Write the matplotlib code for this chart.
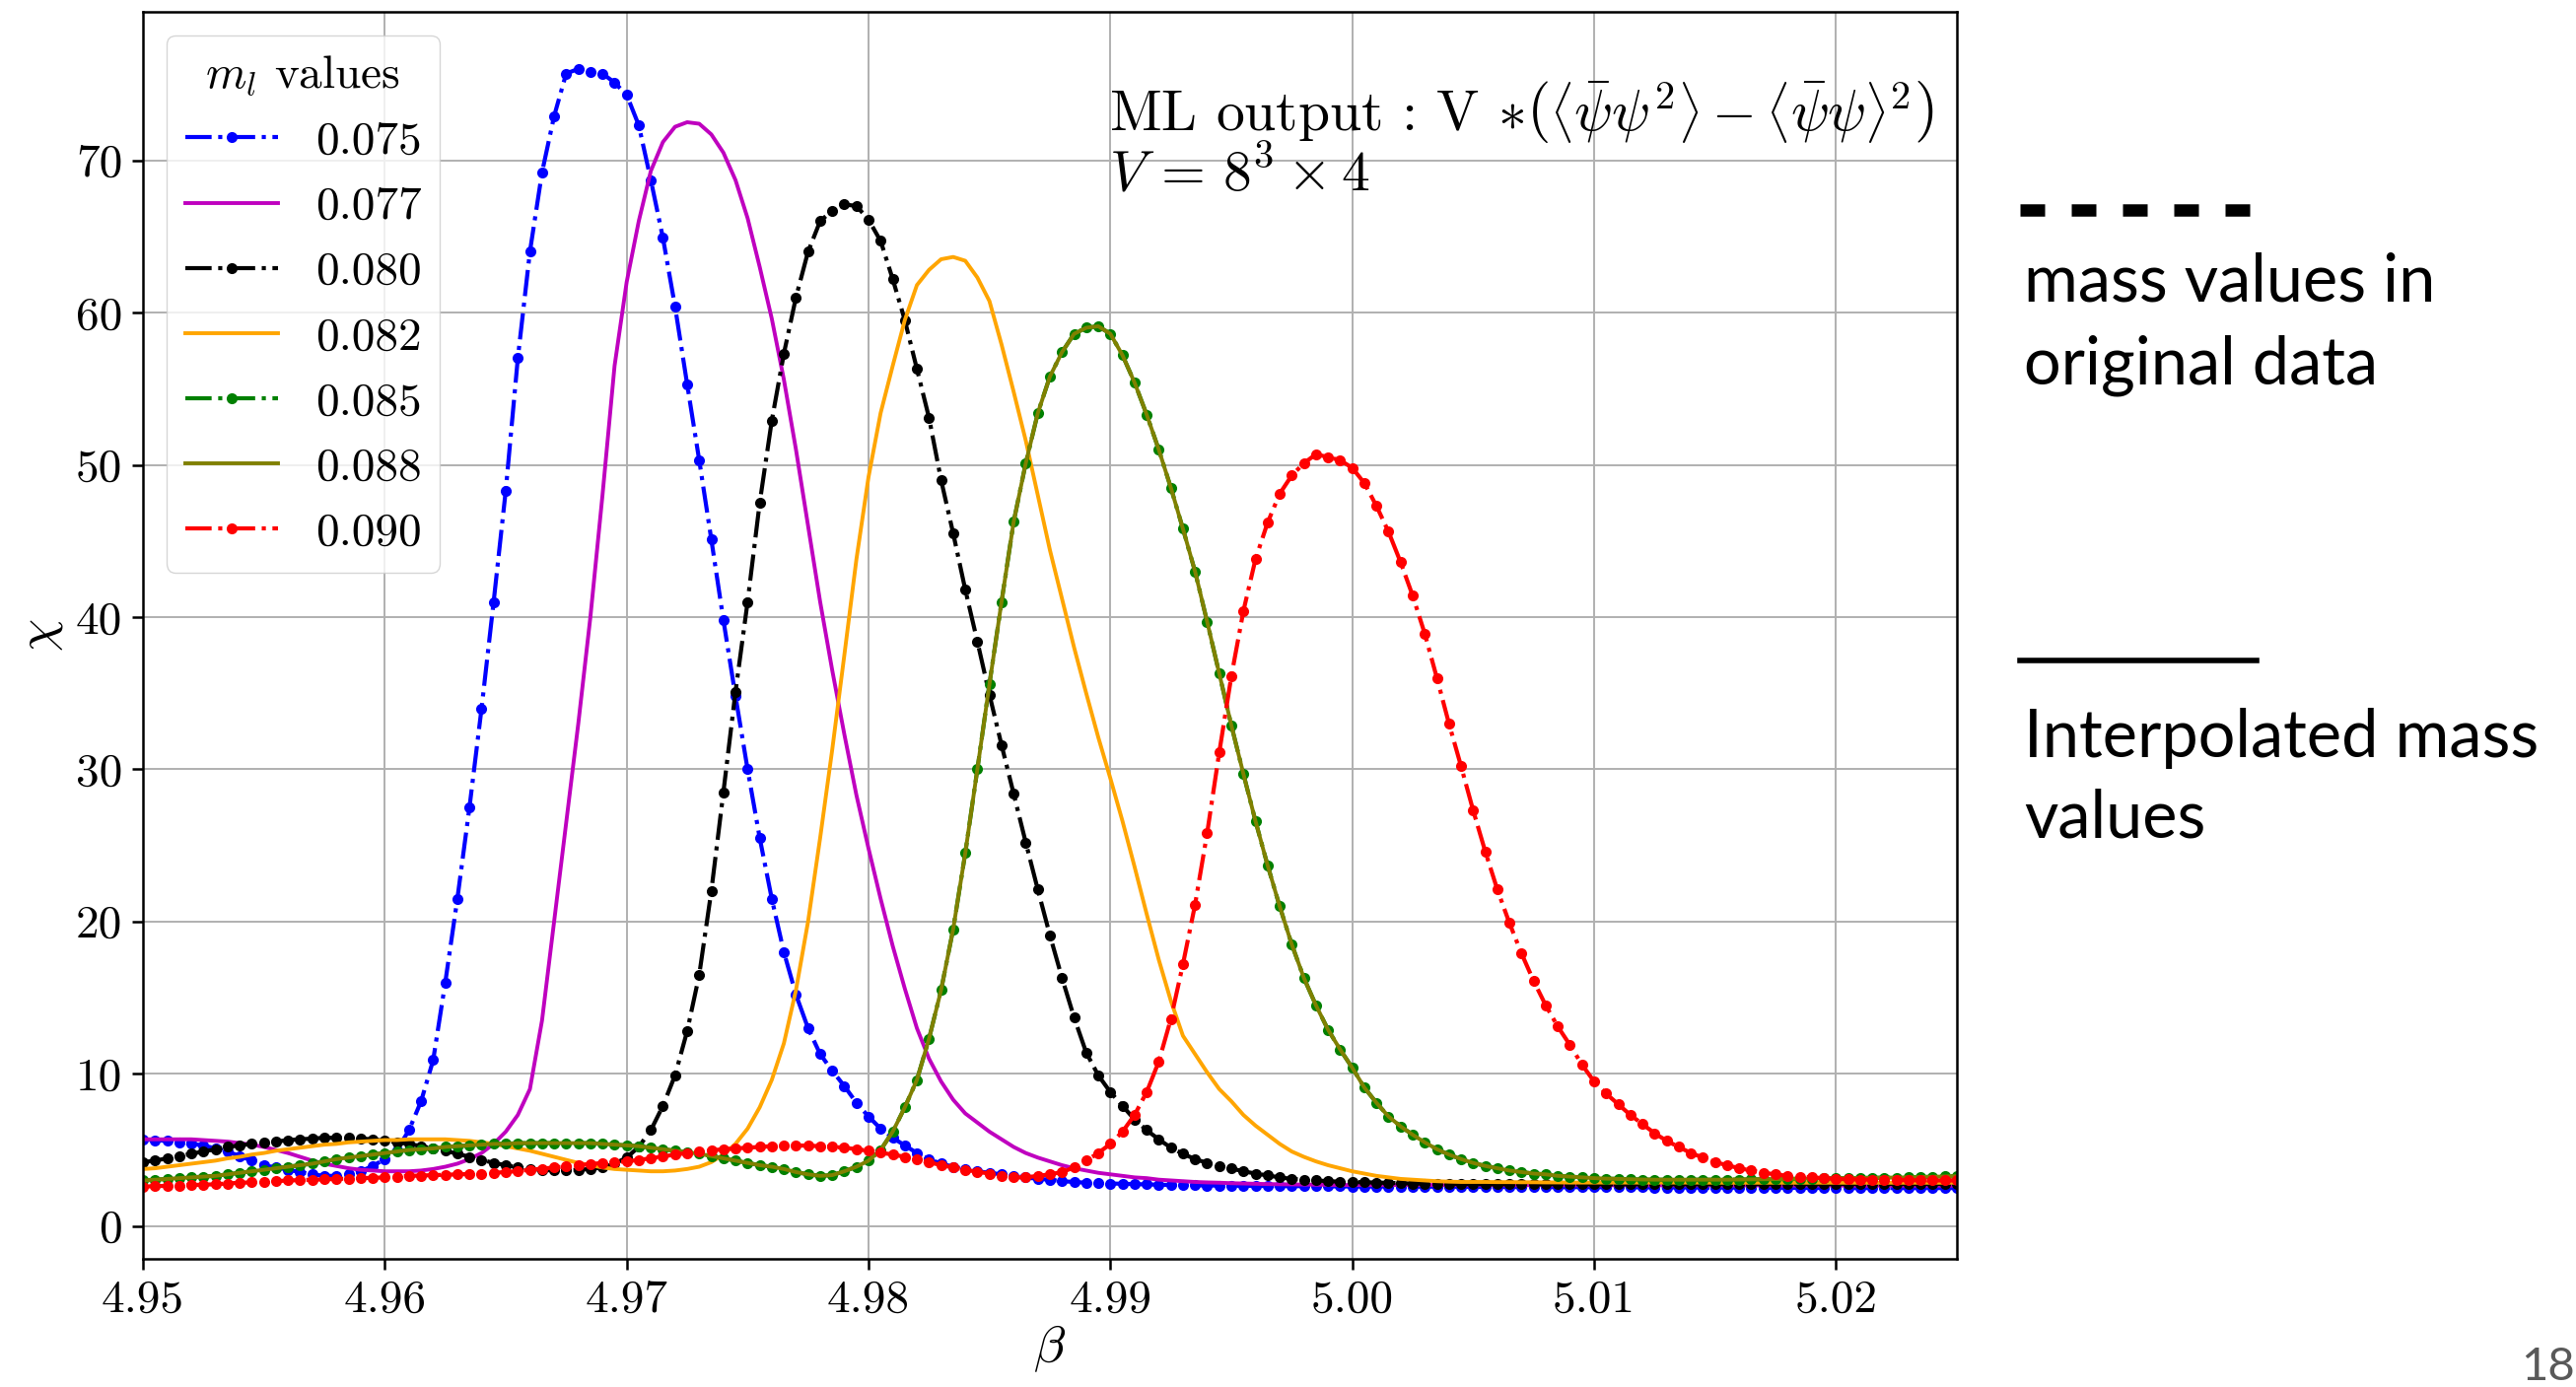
import numpy as np
import matplotlib
matplotlib.use("Agg")
import matplotlib.pyplot as plt
from matplotlib.lines import Line2D

plt.rcParams["font.family"] = "serif"
plt.rcParams["font.serif"] = ["cmr10"]
plt.rcParams["mathtext.fontset"] = "cm"
plt.rcParams["axes.formatter.use_mathtext"] = True
plt.rcParams["axes.unicode_minus"] = False

# beta grid of the curves, step 0.0005
beta = np.linspace(4.95, 5.025, 151)

chi_075 = [
    5.7, 5.65, 5.6, 5.5, 5.4, 5.3, 5.1, 4.9, 4.6, 4.3,
    4.0, 3.85, 3.7, 3.55, 3.4, 3.3, 3.3, 3.4, 3.6, 3.95,
    4.4, 5.0, 6.3, 8.2, 10.9, 16.0, 21.5, 27.5, 34.0, 41.0,
    48.3, 57.0, 64.0, 69.2, 72.9, 75.7, 76.0, 75.8, 75.7, 75.1,
    74.3, 72.3, 68.7, 64.9, 60.4, 55.3, 50.3, 45.1, 39.8, 34.8,
    30.0, 25.5, 21.5, 18.0, 15.2, 13.0, 11.3, 10.2, 9.2, 8.1,
    7.2, 6.4, 5.8, 5.3, 4.8, 4.4, 4.1, 3.9, 3.75, 3.6,
    3.5, 3.4, 3.3, 3.2, 3.1, 3.05, 2.95, 2.9, 2.85, 2.82,
    2.8, 2.78, 2.76, 2.74, 2.72, 2.7, 2.69, 2.68, 2.67, 2.66,
    2.65, 2.65, 2.64, 2.64, 2.63, 2.63, 2.62, 2.62, 2.61, 2.61,
    2.6, 2.6, 2.6, 2.6, 2.6, 2.59, 2.59, 2.59, 2.59, 2.58,
    2.58, 2.58, 2.58, 2.57, 2.57, 2.57, 2.57, 2.56, 2.56, 2.56,
    2.56, 2.55, 2.55, 2.55, 2.55, 2.54, 2.54, 2.54, 2.54, 2.53,
    2.53, 2.53, 2.53, 2.52, 2.52, 2.52, 2.52, 2.51, 2.51, 2.51,
    2.51, 2.5, 2.5, 2.5, 2.5, 2.5, 2.5, 2.5, 2.5, 2.5,
    2.5,
]

chi_077 = [
    5.7, 5.7, 5.7, 5.7, 5.7, 5.65, 5.6, 5.55, 5.45, 5.35,
    5.2, 5.0, 4.8, 4.55, 4.3, 4.1, 3.95, 3.8, 3.7, 3.65,
    3.6, 3.6, 3.6, 3.65, 3.75, 3.9, 4.1, 4.4, 4.8, 5.4,
    6.2, 7.3, 9.0, 13.5, 20.0, 26.5, 33.0, 40.0, 48.0, 56.5,
    62.0, 66.0, 69.3, 71.2, 72.2, 72.5, 72.4, 71.7, 70.5, 68.7,
    66.2, 63.0, 59.6, 55.6, 51.0, 46.0, 41.0, 36.5, 32.3, 28.3,
    24.8, 21.5, 18.4, 15.6, 13.0, 11.0, 9.5, 8.3, 7.4, 6.8,
    6.2, 5.7, 5.2, 4.8, 4.5, 4.25, 4.0, 3.8, 3.65, 3.5,
    3.4, 3.3, 3.2, 3.15, 3.05, 3.0, 2.95, 2.9, 2.87, 2.85,
    2.82, 2.8, 2.78, 2.76, 2.75, 2.74, 2.73, 2.72, 2.71, 2.7,
    2.7, 2.7, 2.7, 2.7, 2.7, 2.7, 2.7, 2.7, 2.7, 2.7,
    2.69, 2.69, 2.69, 2.69, 2.69, 2.69, 2.69, 2.69, 2.69, 2.69,
    2.68, 2.68, 2.68, 2.68, 2.68, 2.68, 2.68, 2.68, 2.68, 2.68,
    2.67, 2.67, 2.67, 2.67, 2.67, 2.67, 2.67, 2.67, 2.67, 2.67,
    2.66, 2.66, 2.66, 2.66, 2.66, 2.66, 2.66, 2.66, 2.66, 2.66,
    2.66,
]

chi_080 = [
    4.2, 4.3, 4.45, 4.6, 4.75, 4.9, 5.05, 5.2, 5.3, 5.4,
    5.5, 5.55, 5.65, 5.7, 5.75, 5.8, 5.8, 5.8, 5.75, 5.7,
    5.6, 5.5, 5.4, 5.25, 5.1, 4.95, 4.75, 4.55, 4.35, 4.15,
    4.0, 3.85, 3.75, 3.7, 3.65, 3.65, 3.7, 3.75, 3.85, 4.1,
    4.5, 5.2, 6.3, 7.9, 9.9, 12.8, 16.5, 22.0, 28.5, 35.1,
    41.0, 47.5, 52.9, 57.3, 61.0, 64.0, 66.0, 66.7, 67.1, 67.0,
    66.1, 64.7, 62.2, 59.5, 56.3, 53.1, 49.0, 45.5, 41.8, 38.4,
    34.9, 31.6, 28.4, 25.2, 22.1, 19.1, 16.3, 13.7, 11.4, 9.9,
    8.8, 7.9, 7.0, 6.3, 5.7, 5.15, 4.75, 4.4, 4.15, 3.95,
    3.78, 3.6, 3.45, 3.33, 3.2, 3.1, 3.05, 3.0, 2.95, 2.92,
    2.9, 2.88, 2.86, 2.84, 2.82, 2.8, 2.79, 2.78, 2.77, 2.76,
    2.75, 2.75, 2.75, 2.75, 2.75, 2.75, 2.75, 2.75, 2.75, 2.75,
    2.75, 2.75, 2.75, 2.75, 2.75, 2.75, 2.75, 2.75, 2.75, 2.75,
    2.76, 2.76, 2.76, 2.76, 2.76, 2.76, 2.76, 2.76, 2.76, 2.76,
    2.77, 2.77, 2.77, 2.77, 2.77, 2.77, 2.77, 2.77, 2.77, 2.77,
    2.78,
]

chi_082 = [
    3.75, 3.8, 3.9, 4.0, 4.1, 4.2, 4.3, 4.45, 4.55, 4.7,
    4.8, 4.95, 5.05, 5.15, 5.25, 5.35, 5.4, 5.5, 5.55, 5.6,
    5.65, 5.65, 5.7, 5.7, 5.7, 5.7, 5.65, 5.6, 5.5, 5.4,
    5.25, 5.1, 4.95, 4.75, 4.55, 4.35, 4.15, 4.0, 3.85, 3.75,
    3.7, 3.65, 3.6, 3.6, 3.65, 3.75, 3.9, 4.2, 4.7, 5.4,
    6.4, 7.8, 9.6, 12.0, 15.5, 20.0, 25.5, 31.3, 37.5, 43.8,
    49.2, 53.4, 56.5, 59.5, 61.8, 62.8, 63.5, 63.65, 63.4, 62.3,
    60.75, 57.9, 54.8, 51.6, 48.0, 44.4, 41.2, 38.0, 35.0, 32.1,
    29.4, 26.6, 23.6, 20.5, 17.5, 14.8, 12.5, 11.3, 10.1, 9.0,
    8.2, 7.3, 6.6, 6.0, 5.4, 4.9, 4.55, 4.25, 4.0, 3.8,
    3.6, 3.45, 3.3, 3.2, 3.1, 3.05, 3.0, 2.95, 2.92, 2.9,
    2.9, 2.9, 2.89, 2.89, 2.88, 2.88, 2.87, 2.87, 2.86, 2.86,
    2.86, 2.86, 2.86, 2.86, 2.86, 2.86, 2.86, 2.86, 2.86, 2.86,
    2.85, 2.85, 2.85, 2.85, 2.85, 2.85, 2.85, 2.85, 2.85, 2.85,
    2.85, 2.85, 2.85, 2.85, 2.85, 2.85, 2.85, 2.85, 2.85, 2.85,
    2.85,
]

chi_085 = [
    3.0, 3.05, 3.1, 3.15, 3.2, 3.25, 3.3, 3.4, 3.5, 3.6,
    3.7, 3.8, 3.9, 4.0, 4.1, 4.25, 4.4, 4.5, 4.6, 4.7,
    4.8, 4.9, 5.0, 5.05, 5.1, 5.2, 5.25, 5.3, 5.35, 5.4,
    5.4, 5.45, 5.45, 5.45, 5.45, 5.45, 5.45, 5.45, 5.4, 5.35,
    5.3, 5.25, 5.15, 5.05, 4.95, 4.85, 4.75, 4.6, 4.45, 4.3,
    4.15, 4.0, 3.9, 3.75, 3.55, 3.4, 3.3, 3.35, 3.6, 3.9,
    4.3, 5.0, 6.2, 7.8, 9.6, 12.3, 15.5, 19.5, 24.5, 30.0,
    35.6, 41.0, 46.25, 50.1, 53.4, 55.8, 57.4, 58.6, 59.0, 59.1,
    58.6, 57.2, 55.4, 53.3, 51.0, 48.5, 45.8, 43.0, 39.7, 36.3,
    32.9, 29.7, 26.6, 23.7, 21.0, 18.5, 16.3, 14.5, 12.9, 11.6,
    10.4, 9.1, 8.1, 7.2, 6.55, 6.0, 5.5, 5.05, 4.7, 4.4,
    4.15, 3.95, 3.8, 3.65, 3.55, 3.45, 3.4, 3.3, 3.25, 3.2,
    3.15, 3.12, 3.1, 3.08, 3.06, 3.05, 3.05, 3.05, 3.05, 3.05,
    3.05, 3.05, 3.06, 3.07, 3.08, 3.09, 3.1, 3.11, 3.12, 3.13,
    3.14, 3.15, 3.16, 3.17, 3.18, 3.19, 3.2, 3.22, 3.24, 3.26,
    3.28,
]

# the interpolated 0.088 curve lies on top of the 0.085 points in the picture
chi_088 = list(chi_085)

chi_090 = [
    2.6, 2.62, 2.65, 2.67, 2.7, 2.72, 2.75, 2.8, 2.85, 2.87,
    2.9, 2.95, 3.0, 3.02, 3.05, 3.07, 3.1, 3.12, 3.15, 3.17,
    3.2, 3.25, 3.3, 3.32, 3.35, 3.37, 3.4, 3.42, 3.45, 3.5,
    3.55, 3.62, 3.7, 3.77, 3.85, 3.92, 4.0, 4.07, 4.15, 4.2,
    4.25, 4.35, 4.45, 4.57, 4.7, 4.8, 4.9, 4.97, 5.05, 5.1,
    5.15, 5.2, 5.25, 5.27, 5.3, 5.28, 5.25, 5.2, 5.15, 5.05,
    4.95, 4.82, 4.7, 4.55, 4.4, 4.2, 4.0, 3.85, 3.7, 3.57,
    3.45, 3.3, 3.2, 3.2, 3.3, 3.4, 3.55, 3.85, 4.3, 4.8,
    5.4, 6.2, 7.3, 8.8, 10.8, 13.6, 17.2, 21.1, 25.8, 31.1,
    36.1, 40.4, 43.8, 46.2, 48.1, 49.3, 50.1, 50.7, 50.5, 50.3,
    49.8, 48.8, 47.3, 45.6, 43.6, 41.4, 38.9, 36.0, 33.0, 30.2,
    27.3, 24.6, 22.1, 19.9, 17.9, 16.1, 14.5, 13.1, 11.9, 10.6,
    9.5, 8.7, 8.0, 7.3, 6.7, 6.1, 5.6, 5.2, 4.8, 4.5,
    4.2, 4.0, 3.8, 3.65, 3.5, 3.4, 3.3, 3.25, 3.2, 3.15,
    3.1, 3.08, 3.06, 3.05, 3.04, 3.03, 3.02, 3.01, 3.0, 3.0,
    3.0,
]

masses = ["0.075", "0.077", "0.080", "0.082", "0.085", "0.088", "0.090"]
series = [chi_075, chi_077, chi_080, chi_082, chi_085, chi_088, chi_090]
colors = ["b", "m", "k", "orange", "g", "olive", "r"]
original = [True, False, True, False, True, False, True]

xticks = [4.95, 4.96, 4.97, 4.98, 4.99, 5.00, 5.01, 5.02]
xtick_labels = ["4.95", "4.96", "4.97", "4.98", "4.99", "5.00", "5.01", "5.02"]
yticks = [0, 10, 20, 30, 40, 50, 60, 70]

W, H = 2613, 1407
fig = plt.figure(figsize=(W / 100, H / 100), dpi=100)
ax = fig.add_axes([145 / W, 1 - 1277 / H, 1840 / W, 1265 / H])

for chi, m, c, orig in zip(series, masses, colors, original):
    if orig:
        ax.plot(beta, chi, "-.", marker="o", ms=8, mew=0, color=c, lw=3.0, label=m)
    else:
        ax.plot(beta, chi, "-", color=c, lw=2.8, label=m)

ax.set_xlim(4.95, 5.025)
ax.set_ylim(-2.15, 79.75)
ax.set_xticks(xticks)
ax.set_xticklabels(xtick_labels)
ax.set_yticks(yticks)
ax.set_yticklabels([str(v) for v in yticks])
ax.tick_params(labelsize=34, length=8, width=1.8, pad=7)
for s in ax.spines.values():
    s.set_linewidth(1.8)
ax.grid(True, color="#b0b0b0", lw=1.4)
ax.set_xlabel(r"$\beta$", fontsize=38, labelpad=2)
ax.set_ylabel(r"$\chi$", fontsize=38, labelpad=8)

leg = ax.legend(title=r"$m_l$ values", loc="upper left", fontsize=34,
                title_fontsize=34, labelspacing=0.51, handlelength=2.0,
                borderpad=0.4, framealpha=0.8)

ax.text((1125 - 145) / 1840, 1 - 69 / 1265,
        "ML output : V $*\\left(\\left\\langle\\bar{\\psi}\\psi^2\\right\\rangle - \\left\\langle\\bar{\\psi}\\psi\\right\\rangle^2\\right)$\n$V\\,=\\,8^3 \\times 4$",
        transform=ax.transAxes, ha="left", va="top", fontsize=41.5, linespacing=1.0)

# slide annotations on the right
fig.add_artist(Line2D([2049 / W, 2289 / W], [1 - 213 / H] * 2, color="k", lw=9,
                      dashes=(2.0, 2.16), transform=fig.transFigure))
fig.add_artist(Line2D([2049 / W, 2289 / W], [1 - 670 / H] * 2, color="k", lw=4,
                      transform=fig.transFigure))
side = dict(family="Lato", fontsize=48, color="k", ha="left", va="baseline")
fig.text(2053 / W, 1 - 306 / H, "mass values in", **side)
fig.text(2053 / W, 1 - 390 / H, "original data", **side)
fig.text(2053 / W, 1 - 768 / H, "Interpolated mass", **side)
fig.text(2053 / W, 1 - 850 / H, "values", **side)
fig.text(2612 / W, 7 / H, "18", family="Lato", fontsize=34, color="#595959",
         ha="right", va="baseline")

fig.savefig("out.png", dpi=100)
